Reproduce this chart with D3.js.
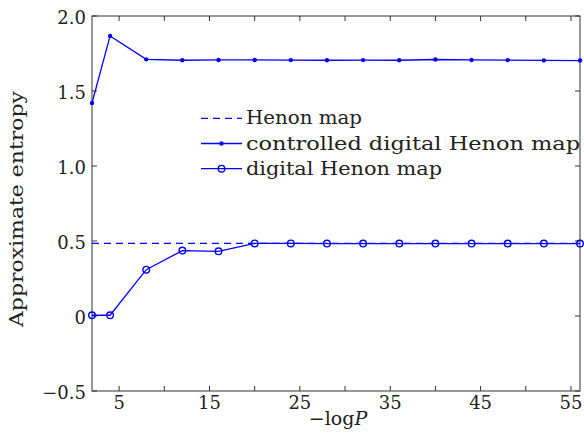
<!DOCTYPE html>
<html>
<head>
<meta charset="utf-8">
<script src="https://cdn.jsdelivr.net/npm/d3@7"></script>
<style>
  body { margin: 0; background: #fff; }
</style>
</head>
<body>
<div id="chart"></div>
<script>
// data
var precision = [2, 4, 8, 12, 16, 20, 24, 28, 32, 36, 40, 44, 48, 52, 56];
var controlledApEn = [1.42, 1.867, 1.711, 1.705, 1.707, 1.707, 1.706, 1.705, 1.706, 1.705, 1.710, 1.707, 1.706, 1.704, 1.703];
var digitalApEn = [0.005, 0.005, 0.309, 0.436, 0.431, 0.484, 0.484, 0.483, 0.483, 0.483, 0.483, 0.483, 0.483, 0.483, 0.483];
var henonApEn = 0.484;
var xTicks = [5, 10, 15, 20, 25, 30, 35, 40, 45, 50, 55];
var xTickLabels = [5, 15, 25, 35, 45, 55];
var yTicks = [-0.5, 0, 0.5, 1.0, 1.5, 2.0];
var legendLabels = ["Henon map", "controlled digital Henon map", "digital Henon map"];

var W = 584, H = 438;
var margin = {top: 16, right: 4, bottom: 47, left: 92};
var width = W - margin.left - margin.right,
    height = H - margin.top - margin.bottom;
var fontFam = "'DejaVu Serif', 'Liberation Serif', 'Times New Roman', serif";

var svg = d3.select("#chart").append("svg")
    .attr("width", W)
    .attr("height", H)
    .attr("font-family", fontFam)
    .style("font-family", fontFam);
var g = svg.append("g")
    .attr("transform", "translate(" + margin.left + "," + margin.top + ")");

var x = d3.scaleLinear().domain([2, 56]).range([0, width]);
var y = d3.scaleLinear().domain([-0.5, 2.0]).range([height, 0]);

var blue = "#0000ff", axisCol = "#333", txtCol = "#222";

// frame
g.append("rect")
  .attr("width", width).attr("height", height)
  .attr("fill", "none").attr("stroke", axisCol).attr("stroke-width", 1);

// ticks, pointing inward on all four sides
var tl = 5;
xTicks.forEach(function(t) {
  g.append("line").attr("x1", x(t)).attr("x2", x(t)).attr("y1", height).attr("y2", height - tl).attr("stroke", axisCol);
  g.append("line").attr("x1", x(t)).attr("x2", x(t)).attr("y1", 0).attr("y2", tl).attr("stroke", axisCol);
});
yTicks.forEach(function(t) {
  g.append("line").attr("x1", 0).attr("x2", tl).attr("y1", y(t)).attr("y2", y(t)).attr("stroke", axisCol);
  g.append("line").attr("x1", width).attr("x2", width - tl).attr("y1", y(t)).attr("y2", y(t)).attr("stroke", axisCol);
});

// tick labels
g.selectAll(".xl").data(xTickLabels).enter().append("text")
  .attr("x", function(d) { return x(d); })
  .attr("y", height + 18)
  .attr("text-anchor", "middle")
  .attr("fill", txtCol)
  .style("font-size", "18px")
  .text(function(d) { return d; });

g.selectAll(".yl").data(yTicks).enter().append("text")
  .attr("x", -6)
  .attr("y", function(d) { return y(d) + 8; })
  .attr("text-anchor", "end")
  .attr("fill", txtCol)
  .style("font-size", "18px")
  .text(function(d) {
    if (d === 0) return "0";
    return (d < 0 ? "\u2212" : "") + Math.abs(d).toFixed(1);
  });

// axis titles
var xt = g.append("text")
  .attr("x", width / 2 + 2)
  .attr("y", height + 34)
  .attr("text-anchor", "middle")
  .attr("fill", txtCol)
  .style("font-size", "19px");
xt.append("tspan").text("\u2212log");
xt.append("tspan").style("font-style", "italic").text("P");

g.append("text")
  .attr("transform", "rotate(-90)")
  .attr("x", -(209 - margin.top))
  .attr("y", -69)
  .attr("text-anchor", "middle")
  .attr("fill", txtCol)
  .attr("textLength", 236)
  .attr("lengthAdjust", "spacingAndGlyphs")
  .style("font-size", "19px")
  .text("Approximate entropy");

// Henon map reference line
g.append("line")
  .attr("x1", x(2)).attr("x2", x(56))
  .attr("y1", y(henonApEn)).attr("y2", y(henonApEn))
  .attr("stroke", blue).attr("stroke-width", 1.2)
  .attr("stroke-dasharray", "7,5");

var line = d3.line()
  .x(function(d) { return x(d[0]); })
  .y(function(d) { return y(d[1]); });

var ctrl = d3.zip(precision, controlledApEn);
var dig = d3.zip(precision, digitalApEn);

g.append("path").datum(ctrl)
  .attr("d", line).attr("fill", "none").attr("stroke", blue).attr("stroke-width", 1.3);
g.selectAll(".cdot").data(ctrl).enter().append("circle")
  .attr("cx", function(d) { return x(d[0]); })
  .attr("cy", function(d) { return y(d[1]); })
  .attr("r", 2.2).attr("fill", blue);

g.append("path").datum(dig)
  .attr("d", line).attr("fill", "none").attr("stroke", blue).attr("stroke-width", 1.3);
g.selectAll(".ddot").data(dig).enter().append("circle")
  .attr("cx", function(d) { return x(d[0]); })
  .attr("cy", function(d) { return y(d[1]); })
  .attr("r", 3.3).attr("fill", "none").attr("stroke", blue).attr("stroke-width", 1.4);

// legend
var lx0 = 201 - margin.left, lx1 = 242 - margin.left, ly0 = 118.3 - margin.top, lstep = 25.2;
var legendLen = [116, 334, 196];
legendLabels.forEach(function(lab, i) {
  var ly = ly0 + i * lstep;
  var ln = g.append("line")
    .attr("x1", lx0).attr("x2", lx1).attr("y1", ly).attr("y2", ly)
    .attr("stroke", blue).attr("stroke-width", 1.3);
  if (i === 0) ln.attr("stroke-dasharray", "7,5");
  if (i === 1) g.append("circle").attr("cx", (lx0 + lx1) / 2).attr("cy", ly).attr("r", 2.2).attr("fill", blue);
  if (i === 2) g.append("circle").attr("cx", (lx0 + lx1) / 2).attr("cy", ly).attr("r", 3.3)
    .attr("fill", "none").attr("stroke", blue).attr("stroke-width", 1.4);
  g.append("text")
    .attr("x", lx1 + 4)
    .attr("y", ly + 6)
    .attr("fill", txtCol)
    .attr("textLength", legendLen[i])
    .attr("lengthAdjust", "spacingAndGlyphs")
    .style("font-size", "18px")
    .text(lab);
});
</script>
</body>
</html>
